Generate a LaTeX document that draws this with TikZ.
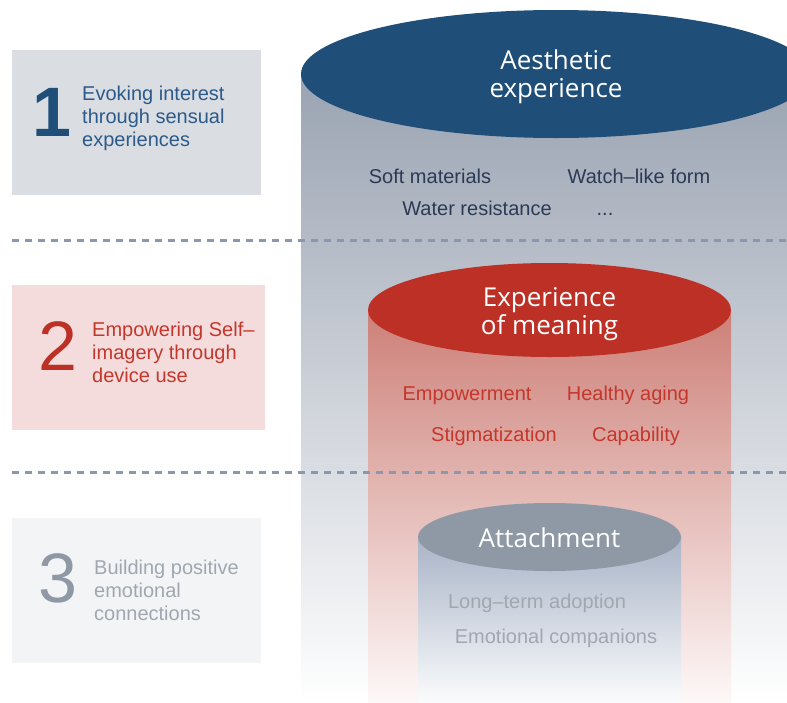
\documentclass[tikz,border=0pt]{standalone}
\usepackage{fontspec}
\setmainfont{Liberation Sans}
\newfontfamily\headfont{Open Sans}
\usetikzlibrary{shapes.geometric}

\definecolor{bluedark}{HTML}{1F4E79}
\definecolor{bluetext}{HTML}{2C5A8A}
\definecolor{navytext}{HTML}{2B3A55}
\definecolor{reddark}{HTML}{BC3026}
\definecolor{redtext}{HTML}{C4372C}
\definecolor{greydark}{HTML}{8F99A6}
\definecolor{greytext}{HTML}{A0A7B1}
\definecolor{boxblue}{HTML}{DADEE3}
\definecolor{boxred}{HTML}{F3DCDB}
\definecolor{boxgrey}{HTML}{F3F4F6}
\definecolor{sepline}{HTML}{8A97AF}
\definecolor{bodyblueA}{HTML}{9AA3B2}
\definecolor{bodyblueB}{HTML}{DCE0E5}
\definecolor{bodyredA}{HTML}{CD8078}
\definecolor{bodyredB}{HTML}{ECC4C0}
\definecolor{bodyredC}{HTML}{FDF8F8}
\definecolor{bodygreyA}{HTML}{A9B4C7}
\definecolor{bodygreyB}{HTML}{FAFBFC}

\begin{document}
\begin{tikzpicture}[x=1pt,y=-1pt,
  stagebox/.style={inner sep=0pt,outer sep=0pt,minimum width=249pt,minimum height=145pt,anchor=north west},
  bignum/.style={inner sep=0pt,font=\fontsize{70}{70}\selectfont},
  stagetext/.style={inner sep=0pt,anchor=west,align=left,font=\fontsize{20}{23}\selectfont},
  cyltop/.style={ellipse,inner sep=0pt},
  toptext/.style={inner sep=0pt,text=white,align=center,font=\headfont\fontsize{26}{28}\selectfont},
  item/.style={inner sep=0pt,anchor=base,font=\fontsize{20}{23}\selectfont},
  separator/.style={sepline,line width=3pt,dash pattern=on 6.5pt off 6.5pt}]

\useasboundingbox (0,0) rectangle (787,702);
\clip (0,0) rectangle (787,702);

% stage boxes on the left
\node[stagebox,fill=boxblue] (box1) at (12,50) {};
\node[stagebox,fill=boxred,minimum width=253pt] (box2) at (12,285) {};
\node[stagebox,fill=boxgrey] (box3) at (12,518) {};

\node[bignum,text=bluedark,font=\fontsize{70}{70}\selectfont\bfseries] (num1) at (52,112) {1};
\node[stagetext,text=bluetext] (txt1) at (82,118) {Evoking interest\\through sensual\\experiences};
\node[bignum,text=reddark] (num2) at (58,346) {2};
\node[stagetext,text=redtext] (txt2) at (92,352) {Empowering Self--\\imagery through\\device use};
\node[bignum,text=greydark] (num3) at (58,578) {3};
\node[stagetext,text=greytext] (txt3) at (94,590) {Building positive\\emotional\\connections};

% cylinder bodies, largest first
\shade[top color=bodyblueA,middle color=bodyblueB,bottom color=white]
  (301,74) rectangle (811,702);
\shade[top color=bodyredA,middle color=bodyredB,bottom color=bodyredC]
  (368,310) rectangle (731,702);
\shade[top color=bodygreyA,bottom color=bodygreyB]
  (418,537) rectangle (681,702);

% dashed separators between the stages
\draw[separator] (12,240) -- (787,240);
\draw[separator] (12,472) -- (787,472);

% cylinder tops
\node[cyltop,fill=bluedark,minimum width=510pt,minimum height=128pt] (aesthetic) at (556,74) {};
\node[toptext] (aesthetic-txt) at ([yshift=-3pt]aesthetic.center) {Aesthetic\\experience};
\node[cyltop,fill=reddark,minimum width=363pt,minimum height=94pt] (meaning) at (549.5,310) {};
\node[toptext] (meaning-txt) at ([yshift=-4pt]meaning.center) {Experience\\of meaning};
\node[cyltop,fill=greydark,minimum width=263pt,minimum height=68pt] (attach) at (549.5,537) {};
\node[toptext] (attach-txt) at ([yshift=-1pt]attach.center) {Attachment};

% items inside each cylinder
\node[item,text=navytext] (soft) at (430,183) {Soft materials};
\node[item,text=navytext] (watch) at (639,183) {Watch--like form};
\node[item,text=navytext] (water) at (477,215) {Water resistance};
\node[item,text=navytext] (more) at (605,215) {...};

\node[item,text=redtext] (empower) at (467,400) {Empowerment};
\node[item,text=redtext] (aging) at (628,400) {Healthy aging};
\node[item,text=redtext] (stigma) at (494,441) {Stigmatization};
\node[item,text=redtext] (capab) at (636,441) {Capability};

\node[item,text=greytext] (longterm) at (537,608) {Long--term adoption};
\node[item,text=greytext] (compan) at (556,643) {Emotional companions};
\end{tikzpicture}
\end{document}
